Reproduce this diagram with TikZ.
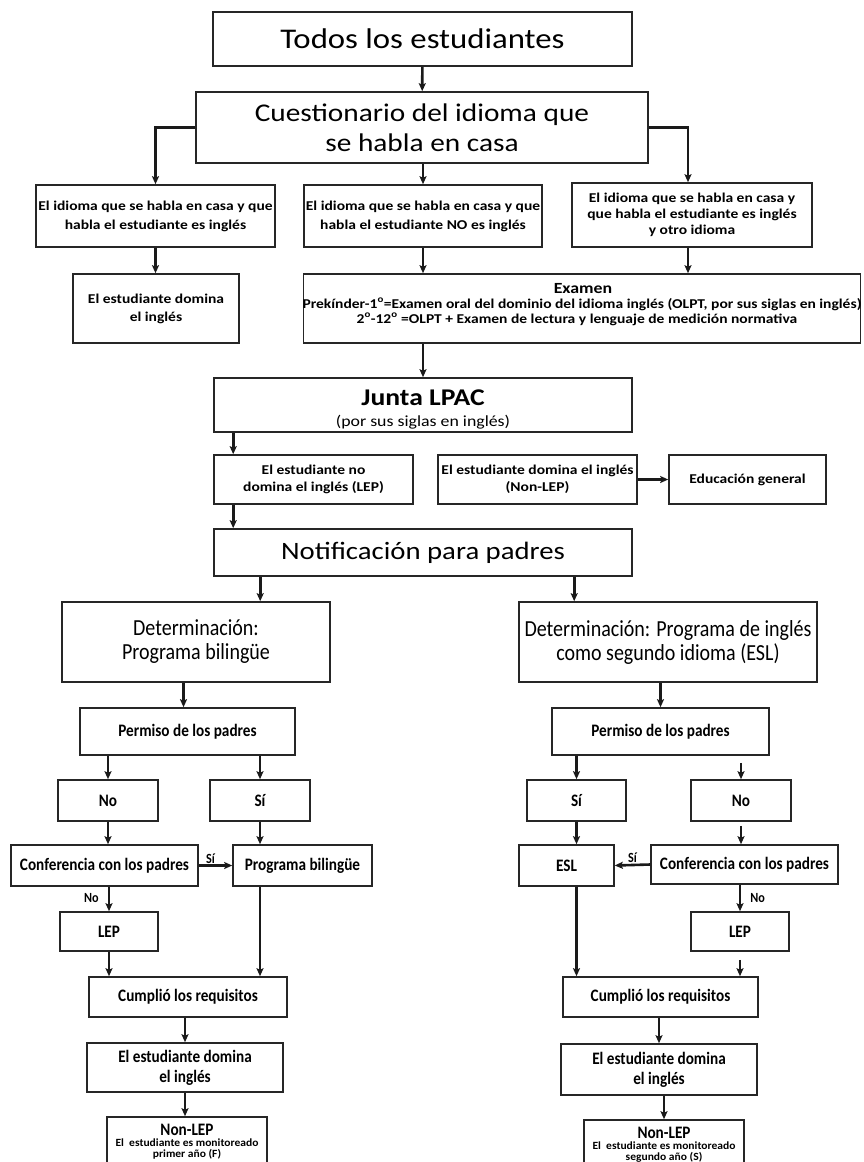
\documentclass[tikz,border=0pt]{standalone}
\usepackage{fontspec}
\setmainfont{Carlito}
\newfontfamily\wideF{Carlito}[FakeStretch=1.15]
\newfontfamily\narrowF{Carlito}[FakeStretch=0.87]
\newfontfamily\midF{Carlito}[FakeStretch=1.05]
\usetikzlibrary{arrows.meta,calc}
\definecolor{boxc}{HTML}{262626}
\definecolor{arrc}{HTML}{1A1A1A}
\begin{document}
\begin{tikzpicture}[x=1pt,y=-1pt,
  bx/.style={draw=boxc, line width=1.6pt, inner sep=0pt, align=center},
  wh/.style 2 args={minimum width=#1pt, minimum height=#2pt},
  txt/.style={inner sep=0pt, anchor=base},
  arr/.style={draw=arrc, line width=2.6pt, -{Stealth[length=8pt,width=7pt,inset=1.5pt]}},
  tT/.style={font=\wideF\fontsize{28.5}{34}\selectfont},
  tC/.style={font=\wideF\fontsize{25.5}{30}\selectfont},
  tS/.style={font=\wideF\bfseries\fontsize{13.5}{19}\selectfont},
  tD/.style={font=\narrowF\fontsize{23}{24}\selectfont},
  tB/.style={font=\narrowF\bfseries\fontsize{17.5}{20}\selectfont},
  tM/.style={font=\midF\bfseries\fontsize{11}{11}\selectfont},
  lab/.style={font=\narrowF\bfseries\fontsize{14}{16}\selectfont, inner sep=1pt}]
\useasboundingbox (0,0) rectangle (863,1162);
\fill[white] (0,0) rectangle (863,1162);
\clip (0,0) rectangle (863,1162);

% ---- top
\node[bx,wh={419}{54},tT] (todos) at (422.5,39) {Todos los estudiantes};
\node[bx,wh={452}{71},tC] (cuest) at (422,127.5) {Cuestionario del idioma que\\se habla en casa};
\node[bx,wh={239}{62},tS] (l1) at (155.5,216) {El idioma que se habla en casa y que\\habla el estudiante es inglés};
\node[bx,wh={238}{62},tS] (m1) at (423,216) {El idioma que se habla en casa y que\\habla el estudiante NO es inglés};
\node[bx,wh={240}{64},tS,font=\wideF\bfseries\fontsize{13.5}{16}\selectfont] (r1) at (692,215) {El idioma que se habla en casa y\\que habla el estudiante es inglés\\y otro idioma};
\node[bx,wh={166}{69},tS,font=\wideF\bfseries\fontsize{13.5}{18}\selectfont] (l2) at (156,308.5) {El estudiante domina\\el inglés};

\node[bx,wh={557}{69}] (exam) at (582,308.5) {};
\node[txt,font=\wideF\bfseries\fontsize{15.5}{16}\selectfont] (examT) at (583,293) {Examen};
\node[txt,tS] (examL1) at (582,308) {Prekínder-1\textsuperscript{o}=Examen oral del dominio del idioma inglés (OLPT, por sus siglas en inglés)};
\node[txt,tS] (examL2) at (577,323) {2\textsuperscript{o}-12\textsuperscript{o} =OLPT + Examen de lectura y lenguaje de medición normativa};

\node[bx,wh={418}{54}] (junta) at (423,405) {};
\node[txt,font=\wideF\bfseries\fontsize{24}{24}\selectfont] (juntaT) at (423,405) {Junta LPAC};
\node[txt,font=\wideF\fontsize{15.5}{16}\selectfont] (juntaS) at (423,426) {(por sus siglas en inglés)};

\node[bx,wh={199}{49},tS,font=\wideF\bfseries\fontsize{13.5}{17}\selectfont] (lep) at (313.5,479.5) {El estudiante no\\domina el inglés (LEP)};
\node[bx,wh={199}{49},tS,font=\wideF\bfseries\fontsize{13.5}{17}\selectfont] (nonlep) at (537.5,479.5) {El estudiante domina el inglés\\(Non-LEP)};
\node[bx,wh={157}{49},tS] (educ) at (747.5,479.5) {Educación general};

\node[bx,wh={418}{47},tT,font=\wideF\fontsize{25}{30}\selectfont] (notif) at (423,552.5) {Notificación para padres};

% ---- determinations
\node[bx,wh={268}{80},tD] (detL) at (196,642) {Determinación:\\Programa bilingüe};
\node[bx,wh={298}{80},tD] (detR) at (668,642) {Determinación: Programa de inglés\\como segundo idioma (ESL)};

\node[bx,wh={215}{47},tB] (permL) at (187.5,731.5) {Permiso de los padres};
\node[bx,wh={217}{47},tB] (permR) at (660.5,731.5) {Permiso de los padres};

\node[bx,wh={100}{41},tB] (noL) at (108,800.5) {No};
\node[bx,wh={100}{41},tB] (siL) at (260,800.5) {Sí};
\node[bx,wh={99}{41},tB] (siR) at (576.5,800.5) {Sí};
\node[bx,wh={100}{41},tB] (noR) at (741,800.5) {No};

\node[bx,wh={187}{41},tB] (confL) at (104.5,865.5) {Conferencia con los padres};
\node[bx,wh={139}{41},tB] (progL) at (302.5,865.5) {Programa bilingüe};
\node[bx,wh={95}{41},tB] (esl) at (566.5,865.5) {ESL};
\node[bx,wh={187}{39},tB] (confR) at (744.5,864.5) {Conferencia con los padres};

\node[bx,wh={98}{39},tB] (lepL) at (109,931.5) {LEP};
\node[bx,wh={98}{39},tB] (lepR) at (740,931.5) {LEP};

\node[bx,wh={198}{40},tB] (cumplL) at (188,997) {Cumplió los requisitos};
\node[bx,wh={195}{40},tB] (cumplR) at (660.5,997) {Cumplió los requisitos};

\node[bx,wh={196}{49},tB] (domL) at (185,1067.5) {El estudiante domina\\el inglés};
\node[bx,wh={196}{51},tB] (domR) at (659,1069.5) {El estudiante domina\\el inglés};

\node[bx,wh={160}{56}] (nonL) at (187,1145) {};
\node[txt,tB] (nonLT) at (187,1135) {Non-LEP};
\node[txt,tM] (nonLS1) at (187,1146) {El~ estudiante es monitoreado};
\node[txt,tM] (nonLS2) at (187,1157) {primer año (F)};

\node[bx,wh={160}{54}] (nonR) at (664,1147) {};
\node[txt,tB] (nonRT) at (664,1138) {Non-LEP};
\node[txt,tM] (nonRS1) at (664,1149) {El~ estudiante es monitoreado};
\node[txt,tM] (nonRS2) at (664,1160) {segundo año (S)};

% ---- connectors
\draw[arr] (todos) -- (cuest);
\draw[arr] (cuest.west) -| (l1.north);
\draw[arr] (cuest.south -| m1.north) -- (m1.north);
\coordinate (rin) at ($(r1.north)+(-4,0)$);
\coordinate (rout) at ($(r1.south)+(-4,0)$);
\draw[arr] (cuest.east) -| (rin);
\draw[arr] (l1.south) -- (l1.south |- l2.north);
\draw[arr] (m1.south) -- (m1.south |- exam.north);
\draw[arr] (rout) -- (rout |- exam.north);
\draw[arr] (junta.north |- exam.south) -- (junta.north);
\coordinate (lepin) at ($(lep.north west)+(20,0)$);
\coordinate (lepout) at ($(lep.south west)+(20,0)$);
\draw[arr] (lepin |- junta.south) -- (lepin);
\draw[arr] (lepout) -- (lepout |- notif.north);
\draw[arr] (nonlep.east) -- (educ.west);
\coordinate (nlo) at ($(notif.south west)+(47,0)$);
\coordinate (nro) at ($(notif.south west)+(361,0)$);
\draw[arr] (nlo) -- (nlo |- detL.north);
\draw[arr] (nro) -- (nro |- detR.north);
\coordinate (pLin) at ($(permL.north)+(-4,0)$);
\draw[arr] (pLin |- detL.south) -- (pLin);
\draw[arr] (permR.north |- detR.south) -- (permR.north);
\draw[arr] (noL.north |- permL.south) -- (noL.north);
\draw[arr] (siL.north |- permL.south) -- (siL.north);
\draw[arr] (siR.north |- permR.south) -- (siR.north);
\draw[arr, shorten <=7pt] (noR.north |- permR.south) -- (noR.north);
\draw[arr] (noL.south) -- (noL.south |- confL.north);
\draw[arr] (siL.south) -- (siL.south |- progL.north);
\draw[arr] (confL.east) -- node[lab, above, pos=0.35] (siLabL) {Sí} (progL.west);
\draw[arr] (siR.south) -- (siR.south |- esl.north);
\draw[arr, shorten <=4pt] (noR.south) -- (noR.south |- confR.north);
\draw[arr] (confR.west) -- node[lab, above, pos=0.5] (siLabR) {Sí} (esl.east);
\draw[arr] (lepL.north |- confL.south) -- node[lab, left=8pt, pos=0.45] (noLabL) {No} (lepL.north);
\draw[arr] (lepR.north |- confR.south) -- node[lab, right=8pt, pos=0.5] (noLabR) {No} (lepR.north);
\draw[arr] (lepL.south) -- (lepL.south |- cumplL.north);
\draw[arr] (siL.center |- progL.south) -- (siL.center |- cumplL.north);
\draw[arr] (siR.center |- esl.south) -- (siR.center |- cumplR.north);
\draw[arr, shorten <=8pt] (lepR.south) -- (lepR.south |- cumplR.north);
\draw[arr] (domL.north |- cumplL.south) -- (domL.north);
\draw[arr] (domL.south) -- (domL.south |- nonL.north);
\draw[arr] (domR.north |- cumplR.south) -- (domR.north);
\draw[arr] (nonR.north |- domR.south) -- (nonR.north);
\end{tikzpicture}
\end{document}
